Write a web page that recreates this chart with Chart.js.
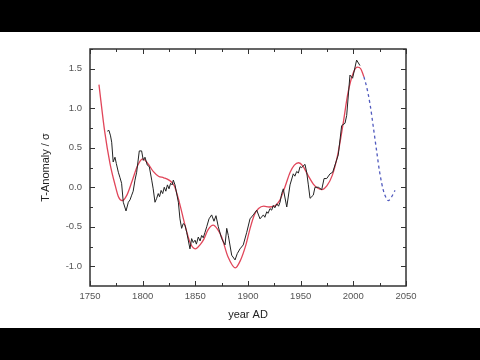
<!DOCTYPE html>
<html>
<head>
<meta charset="utf-8">
<script src="https://cdn.jsdelivr.net/npm/chart.js@4.4.1/dist/chart.umd.min.js"></script>
<style>
  html, body { margin: 0; padding: 0; background: #fff; }
  #wrap { position: relative; width: 480px; height: 360px; overflow: hidden; }
  .bar { position: absolute; left: 0; width: 480px; background: #000; }
  #topBar { top: 0; height: 32px; }
  #bottomBar { top: 328px; height: 32px; }
  canvas { position: absolute; left: 0; top: 0; }
</style>
</head>
<body>
<div id="wrap">
  <canvas id="chart" width="480" height="360"></canvas>
  <div class="bar" id="topBar"></div>
  <div class="bar" id="bottomBar"></div>
</div>
<script>
// Measured temperature anomaly (black, noisy)
const dataYears = [1766.4, 1768, 1769.5, 1770.6, 1772, 1773.7, 1775, 1776.9, 1778.5, 1780,
  1781.6, 1784.2, 1786.4, 1788, 1789.6, 1791, 1792.7, 1794.3, 1796.8, 1799,
  1800.6, 1802.2, 1804.4, 1806.3, 1808.6, 1810, 1811.7, 1813.3, 1814.8, 1816,
  1817.5, 1819, 1820.5, 1822, 1823.5, 1825, 1826.5, 1828, 1829.1, 1830.7,
  1833.9, 1835.4, 1837, 1838.5, 1840.2, 1841.8, 1844.9, 1846.5, 1848, 1849.7,
  1851, 1852.8, 1854.5, 1856, 1857.5, 1859.2, 1860.8, 1863, 1865.5, 1867.7,
  1869.6, 1871.8, 1875, 1878.2, 1879.8, 1881.3, 1884.5, 1887.7, 1889.8, 1892.4,
  1895.5, 1898.8, 1901.9, 1905, 1908.3, 1911.4, 1914.6, 1916, 1917.8, 1919,
  1920.9, 1922.5, 1924, 1925.5, 1927.3, 1929, 1930.4, 1932, 1933.5, 1936.8,
  1939.9, 1943, 1944.5, 1946.2, 1947.8, 1949.4, 1951, 1954.1, 1955.7, 1957.3,
  1958.9, 1962, 1963.6, 1966.8, 1970, 1972.2, 1974.7, 1977.9, 1980.4, 1985.7,
  1988.9, 1992.1, 1993.7, 1996.8, 1999.3, 2003.1, 2006.3];
const dataValues = [0.71, 0.72, 0.65, 0.57, 0.32, 0.38, 0.30, 0.19, 0.12, 0.05,
  -0.19, -0.30, -0.19, -0.16, -0.10, -0.05, 0.09, 0.19, 0.46, 0.46,
  0.34, 0.38, 0.28, 0.26, 0.09, -0.02, -0.19, -0.14, -0.08, -0.12,
  -0.04, -0.08, 0.00, -0.05, 0.03, -0.02, 0.05, 0.03, 0.09, 0.03,
  -0.19, -0.40, -0.52, -0.46, -0.48, -0.57, -0.78, -0.65, -0.70, -0.67,
  -0.72, -0.63, -0.68, -0.61, -0.64, -0.57, -0.50, -0.40, -0.35, -0.43,
  -0.36, -0.50, -0.65, -0.73, -0.52, -0.61, -0.86, -0.92, -0.84, -0.78,
  -0.73, -0.57, -0.40, -0.35, -0.29, -0.40, -0.35, -0.38, -0.31, -0.33,
  -0.27, -0.29, -0.23, -0.26, -0.21, -0.24, -0.19, -0.08, -0.02, -0.25,
  0.03, 0.17, 0.14, 0.20, 0.18, 0.26, 0.25, 0.29, 0.19, 0.03,
  -0.14, -0.10, 0.00, 0.00, -0.03, 0.11, 0.11, 0.17, 0.19, 0.41,
  0.78, 0.81, 0.91, 1.42, 1.38, 1.61, 1.54];

// Fitted curve (red)
const fitYears = [1758.5, 1764, 1769, 1774, 1777, 1780.5, 1785, 1790, 1795, 1800,
  1805, 1810, 1815, 1820, 1825, 1830, 1835, 1840, 1845, 1850,
  1855, 1858, 1862, 1867, 1871, 1875, 1881, 1888, 1893, 1898,
  1902, 1906, 1910, 1915, 1920, 1925, 1930, 1935, 1940, 1944,
  1948, 1952, 1957, 1962, 1966, 1970, 1975, 1980, 1985, 1990,
  1995, 2000, 2004, 2007, 2010];
const fitValues = [1.30, 0.70, 0.30, 0.02, -0.12, -0.17, -0.10, 0.08, 0.27, 0.36,
  0.30, 0.20, 0.14, 0.12, 0.09, 0.02, -0.20, -0.47, -0.70, -0.78,
  -0.72, -0.66, -0.54, -0.48, -0.53, -0.63, -0.88, -1.02, -0.92, -0.73,
  -0.52, -0.35, -0.27, -0.24, -0.25, -0.24, -0.17, 0.00, 0.19, 0.28,
  0.31, 0.27, 0.15, 0.04, -0.01, -0.03, 0.02, 0.15, 0.40, 0.78,
  1.20, 1.45, 1.52, 1.50, 1.40];

// Extrapolation (blue dashed)
const forecastYears = [2010, 2013, 2016, 2019, 2022, 2025, 2028.5, 2031, 2033.2, 2036.4, 2039.6];
const forecastValues = [1.40, 1.25, 1.04, 0.76, 0.47, 0.19, -0.04, -0.13, -0.17, -0.12, -0.04];

const xTicks = [1750, 1800, 1850, 1900, 1950, 2000, 2050];
const yTicks = [-1.0, -0.5, 0.0, 0.5, 1.0, 1.5];

function toPoints(xs, ys) {
  return xs.map((x, i) => ({ x: x, y: ys[i] }));
}

// Inward major/minor ticks on all four sides, plus the frame
const framePlugin = {
  id: "frame",
  afterDraw(chart) {
    const { ctx, chartArea: a } = chart;
    const xs = chart.scales.x;
    const ys = chart.scales.y;
    ctx.save();
    ctx.strokeStyle = "#333";
    ctx.lineWidth = 1;
    ctx.beginPath();
    xTicks.forEach((v, i) => {
      const px = Math.round(xs.getPixelForValue(v)) + 0.5;
      ctx.moveTo(px, a.bottom); ctx.lineTo(px, a.bottom - 5);
      ctx.moveTo(px, a.top); ctx.lineTo(px, a.top + 5);
      if (i < xTicks.length - 1) {
        const m = Math.round(xs.getPixelForValue(v + 25)) + 0.5;
        ctx.moveTo(m, a.bottom); ctx.lineTo(m, a.bottom - 3);
        ctx.moveTo(m, a.top); ctx.lineTo(m, a.top + 3);
      }
    });
    [...yTicks, -1.25].forEach((v) => {
      const py = Math.round(ys.getPixelForValue(v)) + 0.5;
      if (v !== -1.25) {
        ctx.moveTo(a.left, py); ctx.lineTo(a.left + 5, py);
        ctx.moveTo(a.right, py); ctx.lineTo(a.right - 5, py);
      }
      const m = Math.round(ys.getPixelForValue(v + 0.25)) + 0.5;
      ctx.moveTo(a.left, m); ctx.lineTo(a.left + 3, m);
      ctx.moveTo(a.right, m); ctx.lineTo(a.right - 3, m);
    });
    ctx.stroke();
    ctx.lineWidth = 1.5;
    ctx.strokeRect(a.left, a.top, a.right - a.left, a.bottom - a.top);
    ctx.restore();
  },
};

const ctx = document.getElementById("chart").getContext("2d");
new Chart(ctx, {
  type: "line",
  data: {
    datasets: [
      {
        data: toPoints(dataYears, dataValues),
        borderColor: "#222",
        borderWidth: 1,
        pointRadius: 0,
        tension: 0,
      },
      {
        data: toPoints(fitYears, fitValues),
        borderColor: "rgb(225,70,90)",
        borderWidth: 1.3,
        pointRadius: 0,
        cubicInterpolationMode: "monotone",
      },
      {
        data: toPoints(forecastYears, forecastValues),
        borderColor: "rgb(80,90,190)",
        borderWidth: 1.3,
        borderDash: [3, 3],
        pointRadius: 0,
        cubicInterpolationMode: "monotone",
      },
    ],
  },
  options: {
    responsive: false,
    animation: false,
    layout: { padding: { top: 49, right: 74, bottom: 32, left: 0 } },
    plugins: { legend: { display: false }, tooltip: { enabled: false } },
    scales: {
      x: {
        type: "linear",
        min: 1750,
        max: 2050,
        afterBuildTicks: (s) => { s.ticks = xTicks.map((v) => ({ value: v })); },
        afterFit: (s) => { s.height = 42; },
        grid: { display: false, drawTicks: false },
        border: { display: false },
        ticks: {
          padding: 5,
          color: "#555",
          font: { family: "Liberation Sans", size: 9.5 },
          callback: (v) => String(v),
        },
        title: {
          display: true,
          text: "year AD",
          color: "#222",
          padding: { top: 0, bottom: 6 },
          font: { family: "Liberation Sans", size: 11 },
        },
      },
      y: {
        min: -1.25,
        max: 1.75,
        afterBuildTicks: (s) => { s.ticks = yTicks.map((v) => ({ value: v })); },
        afterFit: (s) => { s.width = 90; },
        grid: { display: false, drawTicks: false },
        border: { display: false },
        ticks: {
          padding: 8,
          color: "#555",
          font: { family: "Liberation Sans", size: 9.5 },
          callback: (v) => v.toFixed(1),
        },
        title: {
          display: true,
          text: "T-Anomaly / σ",
          color: "#222",
          padding: { top: 39, bottom: 0 },
          font: { family: "Liberation Sans", size: 11 },
        },
      },
    },
  },
  plugins: [framePlugin],
});
</script>
</body>
</html>
